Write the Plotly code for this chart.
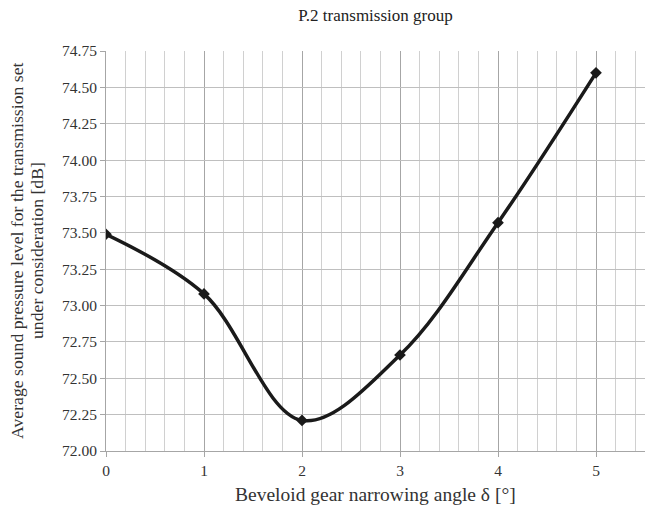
import plotly.graph_objects as go

angles = [0, 1, 2, 3, 4, 5]
spl = [73.49, 73.08, 72.21, 72.66, 73.57, 74.60]
y_ticks = [72.00 + 0.25 * i for i in range(12)]
y_labels = [f"{v:.2f}" for v in y_ticks]
x_ticks = [0, 1, 2, 3, 4, 5]
title_text = "P.2 transmission group"
x_title = "Beveloid gear narrowing angle δ [°]"
y_title_lines = ["Average sound pressure level for the transmission set",
                 "under consideration [dB]"]

L, R, T, B = 106, 10, 51, 57
W, H = 655, 508
PW, PH = W - L - R, H - T - B


def px(x):
    return (x - L) / PW


def py(y):
    return (H - B - y) / PH


fig = go.Figure()
fig.add_trace(go.Scatter(
    x=angles, y=spl, mode="lines+markers",
    line=dict(color="#1a1a1a", width=3.5, shape="spline", smoothing=1.0),
    marker=dict(symbol="diamond", size=9, color="#1a1a1a"),
    showlegend=False, hoverinfo="skip",
))

font = "Liberation Serif"
fig.update_layout(
    width=W, height=H,
    paper_bgcolor="white", plot_bgcolor="white",
    margin=dict(l=L, r=R, t=T, b=B, autoexpand=False),
    font=dict(family=font, color="#333333", size=14),
    title=dict(text=title_text, xref="paper", x=0.5, xanchor="center",
               yref="container", y=1 - 15 / H, yanchor="middle",
               font=dict(family=font, size=17, color="#222222")),
)
fig.update_xaxes(
    range=[0, 5.5], tickvals=x_ticks, ticktext=[str(v) for v in x_ticks],
    showgrid=True, gridcolor="#a6a6a6", gridwidth=1,
    minor=dict(dtick=0.2, tick0=0, showgrid=True, gridcolor="#d0d0d0", gridwidth=1),
    showline=True, linecolor="#a6a6a6", linewidth=1,
    ticks="outside", ticklen=5, tickcolor="#a6a6a6",
    zeroline=False, automargin=False,
    tickfont=dict(family=font, size=15.5, color="#333333"),
)
fig.update_yaxes(
    range=[72.0, 74.75], tickvals=y_ticks, ticktext=y_labels,
    showgrid=True, gridcolor="#bfbfbf", gridwidth=1,
    showline=True, linecolor="#a6a6a6", linewidth=1,
    ticks="outside", ticklen=5, tickcolor="#a6a6a6",
    zeroline=False, automargin=False,
    tickfont=dict(family=font, size=15.5, color="#333333"),
)
for line_text, xc in zip(y_title_lines, [17, 37]):
    fig.add_annotation(
        text=line_text, xref="paper", yref="paper", x=px(xc), y=py(251),
        xanchor="center", yanchor="middle", textangle=-90, showarrow=False,
        font=dict(family=font, size=17.7, color="#333333"),
    )
fig.add_annotation(
    text=x_title, xref="paper", yref="paper", x=0.5, y=py(494),
    xanchor="center", yanchor="middle", showarrow=False,
    font=dict(family=font, size=19.5, color="#333333"),
)

fig.write_html("out.html", post_script="document.body.style.margin='0px';",
               config={"displayModeBar": False})
